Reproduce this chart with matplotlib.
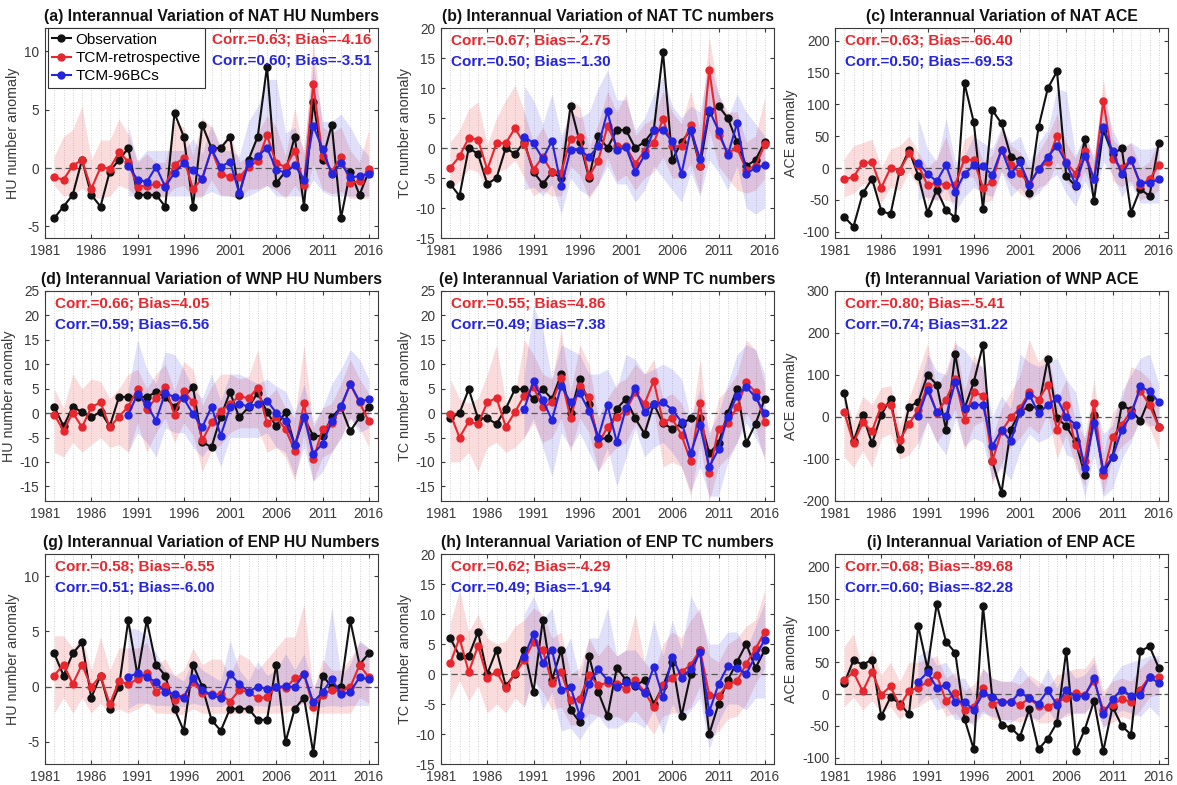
import matplotlib
matplotlib.use("Agg")
import matplotlib.pyplot as plt
from matplotlib.lines import Line2D

plt.rcParams['font.family'] = ['Liberation Sans', 'DejaVu Sans']
plt.rcParams['axes.unicode_minus'] = False

# ---------------------------------------------------------------- years
years = list(range(1982, 2017))
bc_years = list(range(1990, 2017))

# ---------------------------------------------------------------- NAT HU
nat_hu_obs = [-4.3, -3.3, -2.3, 0.7, -2.3, -3.3, -0.3, 0.7, 1.7,
              -2.3, -2.3, -2.3, -3.3, 4.7, 2.7, -3.3, 3.7, 1.7, 1.7,
              2.7, -2.3, 0.7, 2.7, 8.7, -1.3, -0.3, 2.7, -3.3, 5.7,
              0.7, 3.7, -4.3, -0.3, -2.3, -0.3]
nat_hu_retro = [-0.8, -1.0, 0.2, 0.7, -1.8, 0.05, -0.05, 1.35, 0.55,
                -1.6, -1.5, -1.4, -1.5, 0.3, 0.85, -1.8, -0.9, 1.6, -0.5,
                -0.75, -0.8, 0.1, 0.6, 2.8, 0.4, 0.1, 1.5, -1.45, 7.2,
                1.0, -0.3, 0.95, -1.25, -1.15, -0.1]
nat_hu_bc = [0.2, -1.0, -1.2, 0.1, -1.6, -0.4, 0.4, -0.2, -0.9, 1.6,
             0.1, 0.55, -2.15, 0.4, 1.0, 1.75, -0.15, -0.4, 0.25, -1.0,
             3.6, 1.65, -0.5, 0.4, -0.8, -0.7, -0.5]
nat_hu_retro_hi = [1.0, 2.7, 3.3, 5.3, 0.7, 2.4, 2.4, 4.2, 2.9,
                   0.5, 1.2, 0.5, 0.5, 4.0, 3.5, 1.0, 4.3, 3.5, 2.0,
                   3.0, 0.5, 1.0, 3.0, 4.5, 3.5, 1.0, 5.2, 1.0, 11.0,
                   3.5, 3.0, 3.5, 1.5, 0.5, 3.3]
nat_hu_retro_lo = [-1.5, -2.4, -2.4, -1.7, -2.5, -2.6, -2.4, -1.5, -1.8,
                   -2.5, -2.4, -2.5, -2.5, -1.7, -1.5, -2.6, -2.5, -1.0, -2.3,
                   -2.4, -2.6, -1.8, -1.8, -1.5, -1.9, -2.6, -1.5, -2.6, 0.3,
                   -1.8, -2.2, -2.0, -2.6, -2.6, -2.6]
nat_hu_bc_hi = [3.6, 0.6, 1.5, 1.5, 1.5, 1.5, 1.5, 2.5, 1.2, 3.8,
                1.5, 1.5, 1.0, 4.0, 5.3, 7.6, 7.6, 3.0, 3.5, 1.5,
                9.0, 4.0, 4.0, 4.6, 3.5, 2.0, 1.0]
nat_hu_bc_lo = [-2.4, -2.4, -2.4, -2.4, -2.4, -2.4, -2.4, -2.4, -2.4, -2.0,
                -2.4, -2.4, -2.6, -2.4, -2.0, -1.5, -2.4, -2.4, -2.4, -2.4,
                -1.0, -2.0, -2.4, -2.4, -2.4, -2.4, -2.4]

# ---------------------------------------------------------------- NAT TC
nat_tc_obs = [-6, -8, 0, -1, -6, -5, 0, -1, 1,
              -4, -6, -4, -5, 7, 1, -5, 2, 0, 3,
              3, 0, 1, 3, 16, -2, 1, 3, -3, 6,
              7, 5, 1, -3, -2, 1]
nat_tc_retro = [-3.3, -1.4, 1.7, 1.4, -3.6, 0.8, 0.8, 3.3, 0.7,
                -3.6, -1.5, -4.0, -4.1, 1.5, 1.9, -4.7, -2.1, 3.7, 0.3,
                0.3, -2.6, -0.5, 0.9, 4.8, 0.3, 0.3, 3.8, -3.0, 13.0,
                2.2, -0.8, 0.0, -3.6, -3.0, 0.6]
nat_tc_bc = [1.9, 0.8, -1.8, 1.2, -6.4, -0.3, -0.3, -1.5, 0.3, 6.1,
             -0.3, 0.1, -4.0, -1.2, 3.0, 3.0, 1.1, -4.3, 3.0, -1.8,
             6.3, 2.9, -1.2, 4.1, -4.3, -3.3, -2.9]
nat_tc_retro_hi = [1.0, 3, 6.5, 7.7, 0.5, 5, 8, 10.5, 6,
                   1, 3.5, 0, 0, 8, 7, 0, 4, 9.5, 6,
                   9, 2, 4, 5, 9.5, 6, 4, 9.5, 3, 18.5,
                   9, 6, 6, 1, 2, 8.5]
nat_tc_retro_lo = [-7, -5.5, -3.5, -4, -7, -4, -3.5, -2, -5,
                   -8, -7, -8, -8, -3, -4.5, -8.5, -6, -1.5, -5.5,
                   -4.5, -7, -5, -4, -1.5, -5, -5, -2.5, -7.5, 3,
                   -3, -5, -7, -7.5, -7, -5]
nat_tc_bc_hi = [10.3, 8, 4, 9, 2, 6, 5, 6, 10, 13,
                8, 8, 3, 5, 9, 12, 7, 5, 7, 6,
                14.5, 9, 5, 9, 6, 4, 2]
nat_tc_bc_lo = [-7, -6.5, -8, -6, -11, -5, -7, -8, -6, -3,
                -6, -6, -9, -7, -3, -5, -7, -9, -4, -8,
                -2, -4, -7, -3, -10, -11, -10]

# ---------------------------------------------------------------- NAT ACE
nat_ace_obs = [-77, -92, -40, -17, -67, -73, -4, 28, -12,
               -70, -34, -66, -78, 133, 72, -65, 91, 70, 18,
               12, -39, 64, 125, 152, -13, -28, 45, -52, 60,
               22, 31, -70, -33, -44, 39]
nat_ace_retro = [-18, -14, 8, 9, -31, 0, -4, 23, 5,
                 -27, -23, -27, -26, 14, 12, -31, -22, 29, 5,
                 -8, -25, -2, 10, 51, 9, -9, 26, -18, 106,
                 14, 0, 13, -26, -18, 5]
nat_ace_bc = [8, -9, -21, 5, -37, -9, 4, 3, -11, 29,
              -9, 9, -26, -2, 18, 35, 8, -26, 19, -17,
              65, 26, -9, 13, -24, -23, -18]
nat_ace_retro_hi = [15, 35, 40, 45, 0, 30, 35, 50, 25,
                    0, 15, 50, -5, 45, 55, 10, 20, 60, 35,
                    25, 0, 25, 50, 85, 40, 15, 55, 10, 140,
                    45, 30, 40, 0, 10, 45]
nat_ace_retro_lo = [-45, -40, -25, -25, -55, -30, -35, -5, -30,
                    -50, -50, -50, -55, -10, -15, -55, -50, -5, -25,
                    -40, -50, -30, -25, 10, -20, -40, -5, -45, 70,
                    -20, -30, -20, -50, -45, -35]
nat_ace_bc_hi = [78, 30, 10, 78, 10, 20, 50, 40, 30, 65,
                 40, 50, 10, 40, 60, 125, 120, 20, 50, 20,
                 115, 60, 30, 40, 30, 30, 35]
nat_ace_bc_lo = [-50, -45, -50, -30, -70, -45, -30, -40, -45, -5,
                 -45, -30, -50, -40, -20, -10, -40, -60, -20, -50,
                 10, -10, -45, -25, -55, -55, -55]

# ---------------------------------------------------------------- WNP HU
wnp_hu_obs = [1.3, -2.7, 1.3, 0.2, -0.9, 0.3, -2.7, 3.3, 3.3,
              3.3, 3.3, 4.3, 3.3, 1.2, 3.3, 5.3, -5.9, -7.0, -0.7,
              4.3, -0.9, 1.2, 4.2, 0.2, -2.7, 0.2, -6.6, -0.9, -4.7,
              -4.7, -0.9, 1.2, -3.7, -0.9, 1.2]
wnp_hu_retro = [-0.3, -3.6, 0.1, -2.9, 1.2, 2.2, -2.9, -0.7, 1.3,
                4.9, 0.9, 3.0, 5.4, -0.3, 4.5, 2.2, -5.6, -1.9, 0.5,
                1.8, 3.5, 3.0, 5.2, -2.0, -0.9, -3.3, -7.7, 2.0, -9.5,
                -3.3, -2.0, 1.2, 5.9, 2.2, -1.7]
wnp_hu_bc = [-0.3, 3.9, 1.8, -1.6, 4.2, 3.2, 3.0, -0.2, -2.9, 1.3,
             -4.6, 1.2, 1.8, 1.4, 1.8, 2.5, 0.1, -1.6, -6.6, -0.7,
             -8.3, -6.3, -1.7, 1.4, 6.0, 2.4, 2.8]
wnp_hu_retro_hi = [5, 1, 8, 5, 7, 6.5, 3, 5, 8,
                   9, 5, 8, 10, 4.5, 10.5, 9, 1.5, 5.5, 8,
                   8, 7, 7.5, 13, 3, 5, 1, -1, 14, -3,
                   1, 2, 6, 11, 7, 4]
wnp_hu_retro_lo = [-8, -9, -6, -8, -6.5, -5, -7, -6.5, -8,
                   -2, -8, -4, -1, -6, -2, -4.5, -12, -7.5, -6.5,
                   -4, -3, -3, -3, -8, -7, -9, -14, -4, -14,
                   -9, -8, -5, -1, -3, -7]
wnp_hu_bc_hi = [5, 15, 9, 6, 12.5, 12, 9, 5, 3, 8,
                2.5, 8, 8, 7, 6, 7, 5.5, 4.5, 0, 6,
                -2, 1, 6, 9, 13, 11, 7]
wnp_hu_bc_lo = [-8, -4, -6, -9, -3, -4, -4, -7, -9, -6,
                -11, -5, -5, -5, -5, -4, -7, -8, -13, -7,
                -14, -12, -8, -5, -1, -4, -3]

# ---------------------------------------------------------------- WNP TC
wnp_tc_obs = [-1.1, 0, 4.9, -1.1, -1.1, -2.2, 0.9, 4.9, 4.9,
              2.9, 4.9, 2.9, 8.0, 0, 7.0, 1.9, -5.2, -5.2, 0.9,
              2.9, -1.1, -4.2, 1.9, -2.1, -3.2, -2.2, -1.1, -1.1, -8.2,
              -6.2, 0, 4.9, -6.1, -2.2, 2.9]
wnp_tc_retro = [-0.1, -5.0, -1.7, -2.3, 2.2, 3.1, -2.8, 0.2, 3.6,
                5.3, 1.2, 2.2, 7.1, -1.0, 5.6, 3.2, -6.4, -2.8, -0.8,
                0.5, 4.3, 1.9, 6.6, -1.8, -1.1, -4.5, -9.9, 2.0, -12.3,
                -3.2, -2.0, 1.2, 6.3, 4.3, -1.8]
wnp_tc_bc = [0.9, 6.5, 2.6, -1.4, 5.6, 2.2, 4.1, 0.5, -5.0, 1.6,
             -5.9, 1.0, 5.1, 0.2, 1.8, 2.2, 0.7, -1.8, -8.2, -2.5,
             -11.0, -7.4, -0.7, 3.6, 5.4, 3.2, 0.0]
wnp_tc_retro_hi = [7, 3, 2, 3, 8, 14, 2, 4, 15,
                   12, 8, 7, 17, 4, 14, 10, -1, 3, 6,
                   7, 10, 8, 11, 3, 4, 2, -3, 11, -5,
                   3, 5, 8, 15, 13, 6]
wnp_tc_retro_lo = [-10, -10, -8, -12, -7, -6, -8, -7, -5,
                   -2, -6, -5, -1, -8, -1, -4, -12, -9, -7,
                   -6, -2, -5, 1, -11, -10, -11, -17, -6, -18,
                   -11, -9, -6, 0, -3, -10]
wnp_tc_bc_hi = [8, 22, 17, 7, 14, 13, 12, 8, 8, 9,
                5, 12, 11, 8, 9, 10, 9, 7, -1, 5,
                -4, 0, 6, 12, 14, 13, 8]
wnp_tc_bc_lo = [-5, -1, -7, -13, -4, -7, -4, -8, -12, -7,
                -15, -9, -3, -9, -7, -6, -8, -11, -16, -11,
                -17, -17, -10, -6, -2, -5, -9]

# ---------------------------------------------------------------- WNP ACE
wnp_ace_obs = [57, -58, 5, -63, 5, 44, -75, 24, 36,
               100, 77, -30, 150, 20, 83, 172, -105, -180, -30,
               13, 24, 22, 138, -2, -22, -58, -137, 4, -135,
               -95, 28, 17, -9, 45, -24]
wnp_ace_retro = [11, -62, -13, -34, 27, 29, -55, -16, 17,
                 74, 10, 41, 91, -6, 59, 51, -105, -34, -1,
                 21, 59, 41, 77, -30, 28, -66, -105, 33, -137,
                 -48, -18, 13, 63, 29, -24]
wnp_ace_bc = [3, 65, 12, 2, 83, 21, 29, 29, -70, -30,
              -58, 13, 53, 10, 28, 45, 0, -18, -121, -14,
              -125, -96, -30, 4, 73, 61, 36]
wnp_ace_retro_hi = [50, -10, 50, 30, 70, 75, -20, 45, 110,
                    175, 70, 110, 185, 60, 150, 110, -50, 20, 60,
                    100, 185, 130, 155, 40, 90, -10, -50, 90, -90,
                    10, 40, 120, 110, 90, 30]
wnp_ace_retro_lo = [-95, -120, -80, -120, -50, -40, -100, -90, -60,
                    -10, -60, -30, 20, -80, -20, -10, -160, -110, -70,
                    -50, -20, -40, 10, -100, -40, -120, -165, -20, -185,
                    -100, -70, -50, -10, -25, -80]
wnp_ace_bc_hi = [60, 150, 110, 100, 175, 160, 130, 120, 0, 50,
                 20, 150, 130, 120, 130, 140, 90, 60, -50, 40,
                 -40, -20, 60, 100, 140, 150, 80]
wnp_ace_bc_lo = [-80, -10, -60, -90, 0, -70, -50, -60, -150, -120,
                 -150, -80, -40, -60, -50, -30, -90, -100, -190, -90,
                 -190, -170, -100, -60, 0, -20, -20]

# ---------------------------------------------------------------- ENP HU
enp_hu_obs = [3, 1, 3, 4, -1, 1, -2, 0, 6,
              1, 6, 2, 1, -2, -4, 2, 0, -3, -4,
              -2, -2, -2, -3, -3, 2, -5, -2, -1, -6,
              1, 0, 0, 6, 2, 3]
enp_hu_retro = [1.0, 2.0, 0.25, 2.0, -0.05, 1.0, -1.6, 0.5, 0.2,
                0.7, 1.2, -0.45, 0.1, -1.2, -0.9, 0.45, -0.6, -0.7, -0.7,
                -1.35, -0.3, -0.5, -1.05, -0.95, 0.0, -0.15, 0.75, 1.1, -1.8,
                -0.75, -0.3, -0.45, -0.05, 1.95, 0.85]
enp_hu_bc = [0.9, 1.2, 0.9, 0.4, -0.5, -0.65, -1.0, 0.75, -0.3, -0.75,
             -1.05, 1.15, 0.25, -0.45, 0.0, -0.2, -0.05, 0.05, -0.05, 1.15,
             -1.4, -0.5, 0.7, -0.7, -0.5, 0.85, 0.65]
enp_hu_retro_hi = [4.6, 4.6, 3.5, 4.5, 1.5, 4.5, 1.5, 3.5, 3.5,
                   3.5, 4.0, 2.0, 2.5, 1.0, 1.5, 3.5, 2.0, 2.5, 2.5,
                   1.0, 3.0, 2.5, 1.5, 2.5, 3.5, 4.5, 4.5, 7.5, -0.5,
                   2.5, 1.5, 1.5, 2.5, 4.0, 3.5]
enp_hu_retro_lo = [-2.4, -1.0, -2.4, -1.0, -2.4, -1.5, -2.5, -2.0, -2.4,
                   -2.0, -1.5, -2.4, -2.4, -2.5, -2.5, -2.0, -2.4, -2.4, -2.4,
                   -2.5, -2.4, -2.4, -2.4, -2.4, -2.4, -2.4, -2.0, -1.5, -2.5,
                   -2.4, -2.4, -2.4, -2.4, -1.0, -1.5]
enp_hu_bc_hi = [5.3, 5.2, 4.6, 3.0, 1.5, 1.0, 0.5, 2.5, 1.5, 1.0,
                0.5, 4.2, 1.5, 0.5, 2.3, 1.0, 1.5, 3.0, 1.5, 3.0,
                0.0, 1.5, 7.2, 1.0, 2.0, 4.2, 3.5]
enp_hu_bc_lo = [-2.0, -1.5, -1.5, -1.7, -1.7, -1.8, -1.8, -1.5, -1.7, -1.8,
                -1.8, -1.5, -1.7, -1.8, -1.7, -1.8, -1.7, -1.7, -1.7, -1.5,
                -2.0, -1.8, -1.7, -1.8, -1.7, -1.7, -1.7]

# ---------------------------------------------------------------- ENP TC
enp_tc_obs = [6, 3, 3, 7, 0, 4, -2, 0, 4,
              -3, 9, -1, 4, -6, -8, 3, -3, -7, 1,
              -1, -2, -1, -5, -2, 2, -7, 0, 4, -10,
              -5, -1, 2, 5, 1, 4]
enp_tc_retro = [1.8, 6.0, 0.3, 4.7, -0.6, 0.4, -2.4, 0.1, 2.3,
                5.4, 4.0, -1.5, 0.3, -4.4, -4.1, -0.2, -1.8, -1.5, -1.7,
                -2.5, -1.0, -3.0, -5.5, -1.8, -0.7, 0.4, 1.5, 4.0, -3.5,
                -3.6, -1.8, -1.2, 1.7, 4.2, 7.0]
enp_tc_bc = [2.9, 6.7, 1.9, 4.0, -2.7, -2.2, -6.9, -1.6, 0.8, -1.0,
             -2.2, -1.3, -1.8, -3.2, 1.2, -3.9, 2.9, -0.6, 0.8, 3.6,
             -6.3, -1.7, 1.3, 1.0, 0.0, 3.0, 5.7]
enp_tc_retro_hi = [8.5, 14, 7, 10, 6, 5, 5.5, 8, 9,
                   11, 10, 6, 7, 0, 1, 6, 3, 5, 3,
                   4, 10, 2, 0, 5, 7, 6, 9, 11, 3,
                   2, 5, 6, 8, 9, 14]
enp_tc_retro_lo = [-4.5, -1, -4.5, -2, -6.5, -5, -6.5, -4, -5.5,
                   -1, -3, -6, -5.5, -8.5, -8.5, -6.5, -7, -7.5, -7,
                   -8, -6, -8, -10, -7, -6.5, -6.5, -5.5, -2, -11,
                   -9.5, -7.5, -7, -5, -1.5, 1]
enp_tc_bc_hi = [10, 13, 9, 11, 3, 6, -1, 6, 6, 11,
                3, 4, 4, 2, 9, 3, 9, 4, 13, 10,
                5, 5, 7, 7, 4, 8, 12]
enp_tc_bc_lo = [-5.5, 0, -6, -3, -9.5, -9, -11, -8.5, -7, -9,
                -9, -8, -8, -9, -6, -10, -5, -8, -6, -4,
                -12.5, -8, -5, -5, -6, -4, -4]

# ---------------------------------------------------------------- ENP ACE
enp_ace_obs = [17, 53, 46, 54, -35, -5, -15, -32, 107,
               40, 142, 82, 65, -39, -87, 138, -5, -48, -53,
               -67, -24, -87, -70, -45, 68, -90, -56, -11, -90,
               -20, -50, -64, 67, 75, 41]
enp_ace_retro = [22, 34, 4, 35, -1, 12, -19, 5, 10,
                 19, 30, -11, 1, -25, -20, 9, -15, -12, -12,
                 -17, -7, -19, -21, -12, -7, 1, -1, 21, -25,
                 -17, -8, -12, 7, 27, 27]
enp_ace_bc = [19, 34, 10, 14, -12, -12, -25, 1, -4, -12,
              -13, 3, -7, -15, 6, -17, 7, -4, -3, 25,
              -31, -8, 7, -3, -1, 27, 17]
enp_ace_retro_hi = [75, 95, 35, 70, 30, 50, 20, 50, 50,
                    55, 60, 25, 35, 5, 15, 40, 25, 20, 20,
                    15, 30, 20, 10, 30, 35, 40, 40, 60, 5,
                    20, 25, 20, 40, 55, 55]
enp_ace_retro_lo = [-20, -5, -25, -10, -30, -20, -40, -25, -20,
                    -10, -5, -35, -30, -45, -45, -25, -40, -40, -40,
                    -45, -35, -45, -45, -40, -35, -30, -30, -15, -50,
                    -45, -35, -40, -25, -5, 0]
enp_ace_bc_hi = [60, 70, 45, 50, 25, 25, 0, 40, 25, 20,
                 20, 45, 25, 10, 40, 10, 45, 25, 30, 50,
                 -5, 25, 45, 50, 55, 60, 60]
enp_ace_bc_lo = [-15, 0, -25, -20, -40, -40, -50, -30, -35, -40,
                 -45, -35, -35, -40, -25, -45, -30, -30, -30, -10,
                 -55, -35, -25, -30, -35, -20, -35]

# ---------------------------------------------------------------- labels
titles = ["(a) Interannual Variation of NAT HU Numbers",
          "(b) Interannual Variation of NAT TC numbers",
          "(c) Interannual Variation of NAT ACE",
          "(d) Interannual Variation of WNP HU Numbers",
          "(e) Interannual Variation of WNP TC numbers",
          "(f) Interannual Variation of WNP ACE",
          "(g) Interannual Variation of ENP HU Numbers",
          "(h) Interannual Variation of ENP TC numbers",
          "(i) Interannual Variation of ENP ACE"]
ylabels = ["HU number anomaly", "TC number anomaly", "ACE anomaly"] * 3
retro_stats = ["Corr.=0.63; Bias=-4.16", "Corr.=0.67; Bias=-2.75", "Corr.=0.63; Bias=-66.40",
               "Corr.=0.66; Bias=4.05", "Corr.=0.55; Bias=4.86", "Corr.=0.80; Bias=-5.41",
               "Corr.=0.58; Bias=-6.55", "Corr.=0.62; Bias=-4.29", "Corr.=0.68; Bias=-89.68"]
bc_stats = ["Corr.=0.60; Bias=-3.51", "Corr.=0.50; Bias=-1.30", "Corr.=0.50; Bias=-69.53",
            "Corr.=0.59; Bias=6.56", "Corr.=0.49; Bias=7.38", "Corr.=0.74; Bias=31.22",
            "Corr.=0.51; Bias=-6.00", "Corr.=0.49; Bias=-1.94", "Corr.=0.60; Bias=-82.28"]
ylims = [(-6, 12), (-15, 20), (-110, 220),
         (-18, 25), (-18, 25), (-200, 300),
         (-7, 12), (-15, 20), (-110, 220)]
yticks = [[-5, 0, 5, 10], [-15, -10, -5, 0, 5, 10, 15, 20], [-100, -50, 0, 50, 100, 150, 200],
          [-15, -10, -5, 0, 5, 10, 15, 20, 25], [-15, -10, -5, 0, 5, 10, 15, 20, 25],
          [-200, -100, 0, 100, 200, 300],
          [-5, 0, 5, 10], [-15, -10, -5, 0, 5, 10, 15, 20], [-100, -50, 0, 50, 100, 150, 200]]
xticks = [1981, 1986, 1991, 1996, 2001, 2006, 2011, 2016]
legend_labels = ["Observation", "TCM-retrospective", "TCM-96BCs"]

panels = [
    (nat_hu_obs, nat_hu_retro, nat_hu_bc, nat_hu_retro_lo, nat_hu_retro_hi, nat_hu_bc_lo, nat_hu_bc_hi),
    (nat_tc_obs, nat_tc_retro, nat_tc_bc, nat_tc_retro_lo, nat_tc_retro_hi, nat_tc_bc_lo, nat_tc_bc_hi),
    (nat_ace_obs, nat_ace_retro, nat_ace_bc, nat_ace_retro_lo, nat_ace_retro_hi, nat_ace_bc_lo, nat_ace_bc_hi),
    (wnp_hu_obs, wnp_hu_retro, wnp_hu_bc, wnp_hu_retro_lo, wnp_hu_retro_hi, wnp_hu_bc_lo, wnp_hu_bc_hi),
    (wnp_tc_obs, wnp_tc_retro, wnp_tc_bc, wnp_tc_retro_lo, wnp_tc_retro_hi, wnp_tc_bc_lo, wnp_tc_bc_hi),
    (wnp_ace_obs, wnp_ace_retro, wnp_ace_bc, wnp_ace_retro_lo, wnp_ace_retro_hi, wnp_ace_bc_lo, wnp_ace_bc_hi),
    (enp_hu_obs, enp_hu_retro, enp_hu_bc, enp_hu_retro_lo, enp_hu_retro_hi, enp_hu_bc_lo, enp_hu_bc_hi),
    (enp_tc_obs, enp_tc_retro, enp_tc_bc, enp_tc_retro_lo, enp_tc_retro_hi, enp_tc_bc_lo, enp_tc_bc_hi),
    (enp_ace_obs, enp_ace_retro, enp_ace_bc, enp_ace_retro_lo, enp_ace_retro_hi, enp_ace_bc_lo, enp_ace_bc_hi),
]

# ---------------------------------------------------------------- style
OBS_C = "#111111"
RETRO_C = "#e8262d"
BC_C = "#2424e0"
AXIS_C = "#3a3a3a"

W, H = 1177, 785
col_left = [45, 441, 835]
col_width = 333
row_top = [28, 291, 554]
row_height = 210

fig = plt.figure(figsize=(W / 100, H / 100), dpi=100)

for k, (obs, retro, bc, rlo, rhi, blo, bhi) in enumerate(panels):
    r, c = divmod(k, 3)
    ax = fig.add_axes([col_left[c] / W, 1 - (row_top[r] + row_height) / H,
                       col_width / W, row_height / H])

    ax.fill_between(years, rlo, rhi, color=RETRO_C, alpha=0.16, linewidth=0, zorder=1)
    ax.fill_between(bc_years, blo, bhi, color=BC_C, alpha=0.14, linewidth=0, zorder=1.1)
    ax.axhline(0, color="#555555", linestyle=(0, (5, 3)), linewidth=0.9, zorder=2)

    mk = dict(marker="o", markersize=5, linewidth=1.5)
    ax.plot(years, obs, color=OBS_C, zorder=3, **mk)
    ax.plot(years, retro, color=RETRO_C, zorder=4, **mk)
    ax.plot(bc_years, bc, color=BC_C, zorder=5, **mk)

    ax.set_xlim(1981, 2017)
    ax.set_ylim(*ylims[k])
    ax.set_xticks(xticks)
    ax.set_xticks(years, minor=True)
    ax.set_yticks(yticks[k])
    ax.grid(True, which="both", axis="x", linestyle=(0, (1, 2)),
            color="#c4c4c4", linewidth=0.6, zorder=0)
    ax.set_axisbelow(True)
    ax.tick_params(which="both", direction="in", top=True, right=True,
                   colors=AXIS_C, labelsize=9.8, length=3)
    ax.tick_params(axis="x", pad=4.6)
    ax.tick_params(axis="y", pad=4)
    ax.tick_params(which="minor", length=0)
    for s in ax.spines.values():
        s.set_color(AXIS_C)
        s.set_linewidth(0.8)
    ax.set_ylabel(ylabels[k], fontsize=10.3, color=AXIS_C, labelpad=3)
    ax.set_title(titles[k], fontsize=11.3, fontweight="bold", color="#111111", pad=5)

    if k == 0:
        ax.text(0.98, 0.945, retro_stats[k], transform=ax.transAxes, ha="right",
                va="center", color=RETRO_C, fontsize=11, fontweight="bold", zorder=6)
        ax.text(0.98, 0.845, bc_stats[k], transform=ax.transAxes, ha="right",
                va="center", color=BC_C, fontsize=11, fontweight="bold", zorder=6)
        handles = [Line2D([], [], color=col, marker="o", markersize=5, linewidth=1.5)
                   for col in (OBS_C, RETRO_C, BC_C)]
        leg = ax.legend(handles, legend_labels, loc="upper left", bbox_to_anchor=(0.008, 1.0),
                        borderaxespad=0, fontsize=11, handlelength=1.2, handletextpad=0.3,
                        labelspacing=0.28, borderpad=0.3, fancybox=False, framealpha=1,
                        edgecolor="#333333")
        leg.get_frame().set_linewidth(0.8)
        leg.set_zorder(7)
    else:
        ax.text(0.03, 0.94, retro_stats[k], transform=ax.transAxes, ha="left",
                va="center", color=RETRO_C, fontsize=11, fontweight="bold", zorder=6)
        ax.text(0.03, 0.84, bc_stats[k], transform=ax.transAxes, ha="left",
                va="center", color=BC_C, fontsize=11, fontweight="bold", zorder=6)

fig.savefig("out.png", dpi=100)
